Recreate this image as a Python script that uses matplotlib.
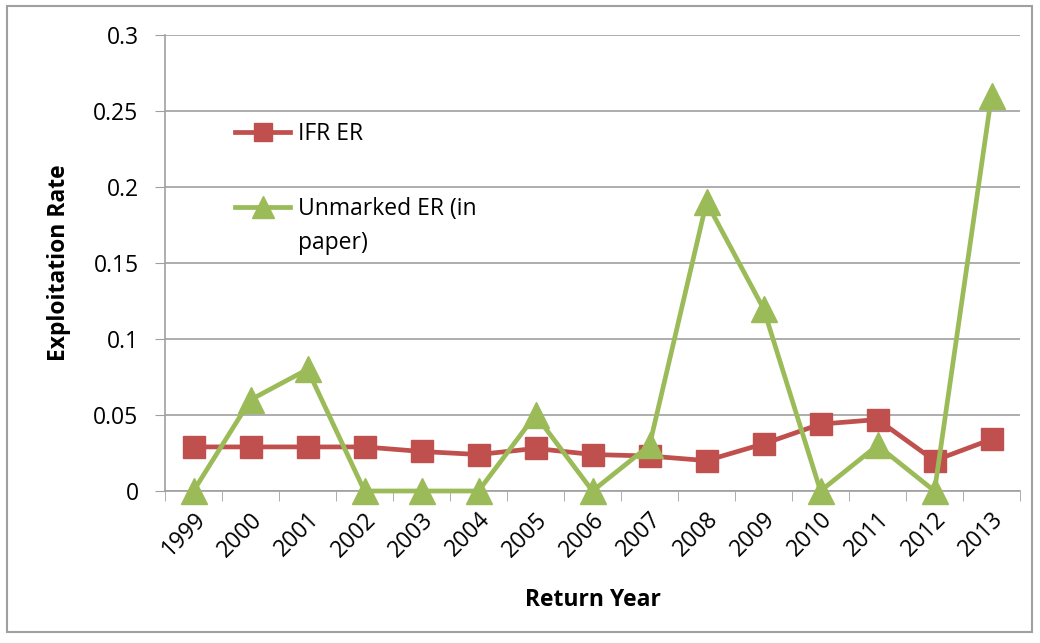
import matplotlib.pyplot as plt
import numpy as np
from matplotlib.patches import Rectangle

years = ['1999', '2000', '2001', '2002', '2003', '2004', '2005', '2006',
         '2007', '2008', '2009', '2010', '2011', '2012', '2013']
ifr_er = [0.029, 0.029, 0.029, 0.029, 0.026, 0.024, 0.028, 0.024,
          0.023, 0.020, 0.031, 0.044, 0.047, 0.020, 0.034]
unmarked_er = [0.0, 0.06, 0.08, 0.0, 0.0, 0.0, 0.05, 0.0,
               0.03, 0.19, 0.12, 0.0, 0.03, 0.0, 0.26]

plt.rcParams['font.family'] = ['Open Sans', 'DejaVu Sans']

fig = plt.figure(figsize=(10.4, 6.43), dpi=100)
ax = fig.add_axes([165 / 1040, (643 - 491) / 643, 855 / 1040, 456 / 643])

x = np.arange(len(years))
ax.plot(x, ifr_er, color='#C0504D', lw=3.4, marker='s', markersize=16.5,
        label='IFR ER', zorder=3)
ax.plot(x, unmarked_er, color='#9BBB59', lw=3.4, marker='^', markersize=19,
        label='Unmarked ER (in', zorder=4, clip_on=False)

ax.set_xlim(-0.5, len(years) - 0.5)
ax.set_ylim(0, 0.3)
ax.set_yticks([0, 0.05, 0.1, 0.15, 0.2, 0.25, 0.3])
ax.set_yticklabels(['0', '0.05', '0.1', '0.15', '0.2', '0.25', '0.3'], fontsize=16.5)
ax.set_xticks(x)
ax.set_xticklabels(years, rotation=45, fontsize=16.5, ha='right', va='top',
                   rotation_mode='anchor')
ax.tick_params(axis='x', which='major', length=0, pad=12)
ax.set_xticks(np.arange(-0.5, len(years)), minor=True)
ax.tick_params(axis='x', which='minor', length=7, color='#A0A0A0', direction='out')
ax.tick_params(axis='y', length=7, color='#A0A0A0', direction='out', pad=12)

ax.grid(axis='y', color='#A0A0A0', lw=1.2)
ax.set_axisbelow(True)
for s in ['top', 'right']:
    ax.spines[s].set_visible(False)
for s in ['left', 'bottom']:
    ax.spines[s].set_color('#A0A0A0')
    ax.spines[s].set_linewidth(1.2)

ax.set_xlabel('Return Year', fontsize=16.5, fontweight='bold', labelpad=19)
ax.set_ylabel('Exploitation Rate', fontsize=16.5, fontweight='bold', labelpad=16)

leg = ax.legend(loc='upper left', bbox_to_anchor=(0.058, 0.855), frameon=False,
                fontsize=16.5, handlelength=2.4, labelspacing=2.25,
                handletextpad=0.35, markerscale=0.8)

# second line of the green legend label, set under its first line
fig.canvas.draw()
bb = leg.get_texts()[1].get_window_extent()
px, py = fig.transFigure.inverted().transform((bb.x0, bb.y0 - 34))
fig.text(px, py, 'paper)', fontsize=16.5, ha='left', va='bottom')

fig.patches.append(Rectangle((7 / 1040, 11 / 643), 1025 / 1040, 626 / 643,
                             transform=fig.transFigure, fill=False,
                             edgecolor='#A0A0A0', lw=1.5))

fig.savefig('out.png', dpi=100)
